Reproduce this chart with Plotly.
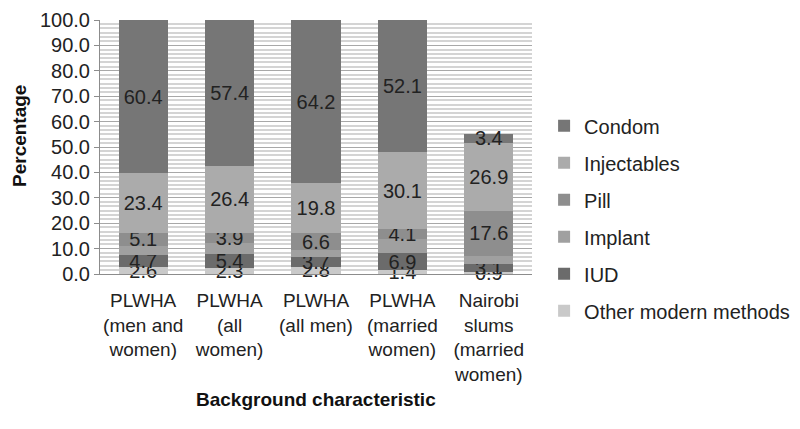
import plotly.graph_objects as go

categories = ["PLWHA<br>(men and<br>women)", "PLWHA<br>(all<br>women)", "PLWHA<br>(all men)",
              "PLWHA<br>(married<br>women)", "Nairobi<br>slums<br>(married<br>women)"]

other = [2.6, 2.3, 2.8, 1.4, 0.9]
iud = [4.7, 5.4, 3.7, 6.9, 3.1]
implant = [3.8, 4.6, 2.9, 5.4, 3.2]
pill = [5.1, 3.9, 6.6, 4.1, 17.6]
injectables = [23.4, 26.4, 19.8, 30.1, 26.9]
condom = [60.4, 57.4, 64.2, 52.1, 3.4]

series = [
    ("Other modern methods", other, "#c9c9c9", True),
    ("IUD", iud, "#6b6b6b", True),
    ("Implant", implant, "#a0a0a0", False),
    ("Pill", pill, "#8e8e8e", True),
    ("Injectables", injectables, "#ababab", True),
    ("Condom", condom, "#767676", True),
]

FONT = "Liberation Sans, Arial, sans-serif"
fig = go.Figure()
n = len(series)
for i, (name, vals, color, show) in enumerate(series):
    fig.add_trace(go.Bar(
        x=categories, y=vals, name=name, legendgroup=name, legendrank=n - i,
        marker=dict(color=color, line=dict(width=0)),
        text=[f"{v:.1f}" for v in vals] if show else None,
        textposition="inside", insidetextanchor="middle", constraintext="none",
        textfont=dict(size=20, color="#222222", family=FONT),
        cliponaxis=False,
    ))

# page body adds an 8px offset, so the figure is drawn 8px smaller
fig.update_layout(
    barmode="stack", bargap=0.43,
    width=792, height=421,
    margin=dict(l=92, r=268, t=12, b=155, autoexpand=False),
    plot_bgcolor="white", paper_bgcolor="white",
    font=dict(family=FONT, size=20, color="#222222"),
    legend=dict(traceorder="grouped", tracegroupgap=8,
                x=1.028, xanchor="left", y=0.66, yanchor="top",
                font=dict(size=20, family=FONT, color="#222222"),
                itemwidth=30),
    showlegend=True,
)
fig.update_yaxes(
    range=[0, 100], dtick=10, tickformat=".1f", automargin=False,
    showgrid=True, gridcolor="#a8a8a8", gridwidth=1,
    minor=dict(dtick=10/6, showgrid=True, gridcolor="#d4d4d4", gridwidth=1.5),
    showline=True, linecolor="#8c8c8c", linewidth=1,
    ticks="outside", ticklen=5, tickcolor="#8c8c8c",
    tickfont=dict(size=20, family=FONT, color="#222222"),
    zeroline=False,
)
fig.update_xaxes(
    showline=True, linecolor="#8c8c8c", linewidth=1, automargin=False,
    tickfont=dict(size=19, family=FONT, color="#222222"),
    ticks="", ticklabelstandoff=9,
)
fig.add_annotation(text="<b>Percentage</b>", xref="paper", yref="paper",
                   x=(20 - 100) / 432, y=(274 - 136) / 254, xanchor="center", yanchor="middle",
                   textangle=-90, showarrow=False,
                   font=dict(size=19, family=FONT, color="#111111"))
fig.add_annotation(text="<b>Background characteristic</b>", xref="paper", yref="paper",
                   x=0.5, y=(274 - 399) / 254, xanchor="center", yanchor="middle", showarrow=False,
                   font=dict(size=19, family=FONT, color="#111111"))

fig.write_html("out.html")
